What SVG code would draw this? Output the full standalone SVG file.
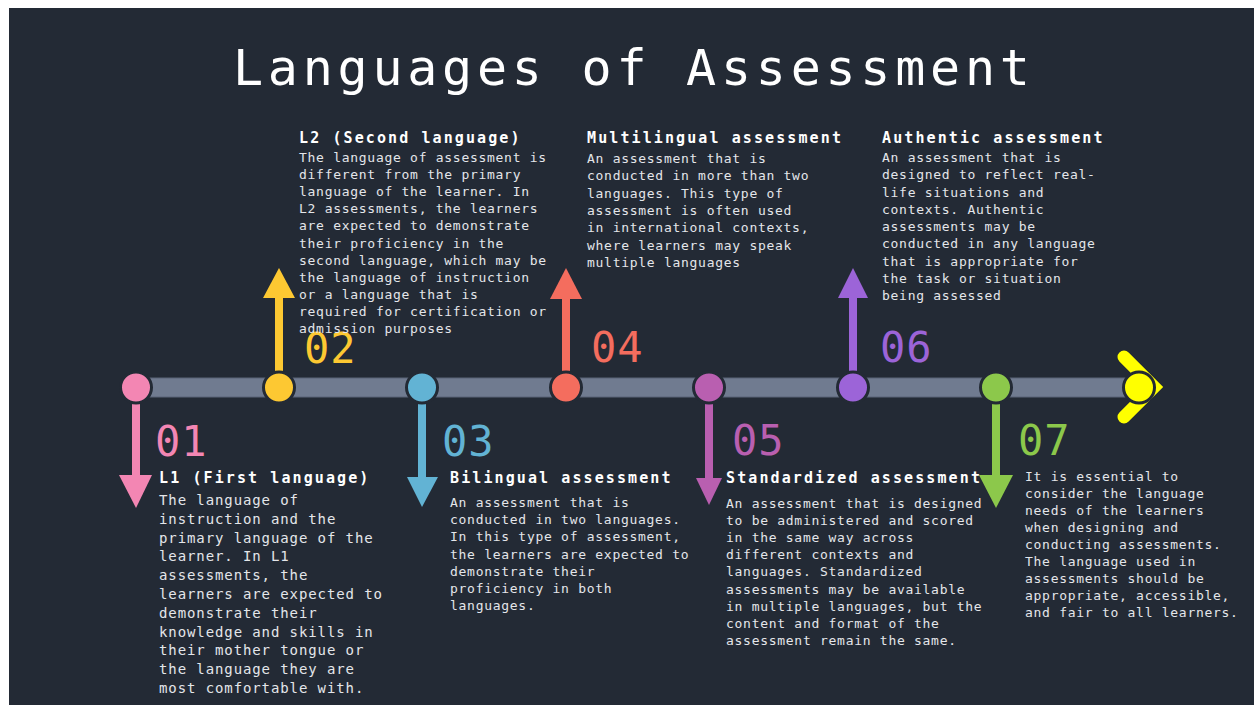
<svg xmlns="http://www.w3.org/2000/svg" width="1254" height="705" viewBox="0 0 1254 705">
<style>
.title{font-family:"DejaVu Sans Mono","Liberation Mono",monospace;font-size:50px;fill:#ffffff;letter-spacing:4.75px}
.num{font-family:"DejaVu Sans Mono","Liberation Mono",monospace;font-size:42px;letter-spacing:1px}
.head{font-family:"DejaVu Sans Mono","Liberation Mono",monospace;font-size:15px;font-weight:bold;fill:#ffffff;letter-spacing:2.1px}
.body{font-family:"DejaVu Sans Mono","Liberation Mono",monospace;font-size:13px;fill:#e4e6ea;letter-spacing:0.72px}
.body14{font-family:"DejaVu Sans Mono","Liberation Mono",monospace;font-size:14px;fill:#e4e6ea;letter-spacing:0.9px}
.dot{stroke:#232a35;stroke-width:3}
</style>
<rect x="0" y="0" width="1254" height="705" fill="#ffffff"/>
<rect x="9" y="8" width="1245" height="697" fill="#232a35"/>
<text class="title" x="233" y="85">Languages of Assessment</text>

<g id="connectors">
  <rect x="135" y="378" width="1004" height="19" fill="#707b90" stroke="#5a6579" stroke-width="1"/>
  <path d="M1124,357 L1154,387 L1124,417" fill="none" stroke="#ffff00" stroke-width="13" stroke-linecap="round" stroke-linejoin="miter"/>
</g>

<g id="node-01">
  <rect x="132" y="390" width="8" height="87" fill="#f386b3"/>
  <polygon points="119,475 152,475 136,508" fill="#f386b3"/>
  <circle class="dot" cx="136" cy="387.5" r="15.5" fill="#f386b3"/>
  <text class="num" x="155" y="456" fill="#f386b3">01</text>
  <text class="head" x="159" y="483">L1 (First language)</text>
  <text class="body14" x="159" y="505">
    <tspan x="159" dy="0">The language of</tspan>
    <tspan x="159" dy="18.8">instruction and the</tspan>
    <tspan x="159" dy="18.8">primary language of the</tspan>
    <tspan x="159" dy="18.8">learner. In L1</tspan>
    <tspan x="159" dy="18.8">assessments, the</tspan>
    <tspan x="159" dy="18.8">learners are expected to</tspan>
    <tspan x="159" dy="18.8">demonstrate their</tspan>
    <tspan x="159" dy="18.8">knowledge and skills in</tspan>
    <tspan x="159" dy="18.8">their mother tongue or</tspan>
    <tspan x="159" dy="18.8">the language they are</tspan>
    <tspan x="159" dy="18.8">most comfortable with.</tspan>
  </text>
</g>

<g id="node-02">
  <rect x="275" y="297" width="8" height="90" fill="#fdc832"/>
  <polygon points="263,298 295,298 279,268" fill="#fdc832"/>
  <circle class="dot" cx="279" cy="387.5" r="15.5" fill="#fdc832"/>
  <text class="num" x="304" y="363" fill="#fdc832">02</text>
  <text class="head" x="299" y="143">L2 (Second language)</text>
  <text class="body" x="299" y="162">
    <tspan x="299" dy="0">The language of assessment is</tspan>
    <tspan x="299" dy="17.1">different from the primary</tspan>
    <tspan x="299" dy="17.1">language of the learner. In</tspan>
    <tspan x="299" dy="17.1">L2 assessments, the learners</tspan>
    <tspan x="299" dy="17.1">are expected to demonstrate</tspan>
    <tspan x="299" dy="17.1">their proficiency in the</tspan>
    <tspan x="299" dy="17.1">second language, which may be</tspan>
    <tspan x="299" dy="17.1">the language of instruction</tspan>
    <tspan x="299" dy="17.1">or a language that is</tspan>
    <tspan x="299" dy="17.1">required for certification or</tspan>
    <tspan x="299" dy="17.1">admission purposes</tspan>
  </text>
</g>

<g id="node-03">
  <rect x="418" y="390" width="8" height="89" fill="#62b3d4"/>
  <polygon points="407,477 438,477 422,507" fill="#62b3d4"/>
  <circle class="dot" cx="422" cy="387.5" r="15.5" fill="#62b3d4"/>
  <text class="num" x="442" y="456" fill="#62b3d4">03</text>
  <text class="head" x="450" y="483">Bilingual assessment</text>
  <text class="body" x="450" y="507">
    <tspan x="450" dy="0">An assessment that is</tspan>
    <tspan x="450" dy="17.2">conducted in two languages.</tspan>
    <tspan x="450" dy="17.2">In this type of assessment,</tspan>
    <tspan x="450" dy="17.2">the learners are expected to</tspan>
    <tspan x="450" dy="17.2">demonstrate their</tspan>
    <tspan x="450" dy="17.2">proficiency in both</tspan>
    <tspan x="450" dy="17.2">languages.</tspan>
  </text>
</g>

<g id="node-04">
  <rect x="562" y="297" width="8" height="90" fill="#f46d5e"/>
  <polygon points="550,299 582,299 566,268" fill="#f46d5e"/>
  <circle class="dot" cx="566" cy="387.5" r="15.5" fill="#f46d5e"/>
  <text class="num" x="591" y="362" fill="#f46d5e">04</text>
  <text class="head" x="587" y="143">Multilingual assessment</text>
  <text class="body" x="587" y="163">
    <tspan x="587" dy="0">An assessment that is</tspan>
    <tspan x="587" dy="17.3">conducted in more than two</tspan>
    <tspan x="587" dy="17.3">languages. This type of</tspan>
    <tspan x="587" dy="17.3">assessment is often used</tspan>
    <tspan x="587" dy="17.3">in international contexts,</tspan>
    <tspan x="587" dy="17.3">where learners may speak</tspan>
    <tspan x="587" dy="17.3">multiple languages</tspan>
  </text>
</g>

<g id="node-05">
  <rect x="705" y="390" width="8" height="90" fill="#b95fb0"/>
  <polygon points="696,478 722,478 709,505" fill="#b95fb0"/>
  <circle class="dot" cx="709" cy="387.5" r="15.5" fill="#b95fb0"/>
  <text class="num" x="732" y="455" fill="#b95fb0">05</text>
  <text class="head" x="726" y="483">Standardized assessment</text>
  <text class="body" x="726" y="508">
    <tspan x="726" dy="0">An assessment that is designed</tspan>
    <tspan x="726" dy="17.1">to be administered and scored</tspan>
    <tspan x="726" dy="17.1">in the same way across</tspan>
    <tspan x="726" dy="17.1">different contexts and</tspan>
    <tspan x="726" dy="17.1">languages. Standardized</tspan>
    <tspan x="726" dy="17.1">assessments may be available</tspan>
    <tspan x="726" dy="17.1">in multiple languages, but the</tspan>
    <tspan x="726" dy="17.1">content and format of the</tspan>
    <tspan x="726" dy="17.1">assessment remain the same.</tspan>
  </text>
</g>

<g id="node-06">
  <rect x="849" y="297" width="8" height="90" fill="#9c64d8"/>
  <polygon points="838,298 868,298 853,268" fill="#9c64d8"/>
  <circle class="dot" cx="853" cy="387.5" r="15.5" fill="#9c64d8"/>
  <text class="num" x="880" y="362" fill="#9c64d8">06</text>
  <text class="head" x="882" y="143">Authentic assessment</text>
  <text class="body" x="882" y="162">
    <tspan x="882" dy="0">An assessment that is</tspan>
    <tspan x="882" dy="17.25">designed to reflect real-</tspan>
    <tspan x="882" dy="17.25">life situations and</tspan>
    <tspan x="882" dy="17.25">contexts. Authentic</tspan>
    <tspan x="882" dy="17.25">assessments may be</tspan>
    <tspan x="882" dy="17.25">conducted in any language</tspan>
    <tspan x="882" dy="17.25">that is appropriate for</tspan>
    <tspan x="882" dy="17.25">the task or situation</tspan>
    <tspan x="882" dy="17.25">being assessed</tspan>
  </text>
</g>

<g id="node-07">
  <rect x="992" y="390" width="8" height="87" fill="#8cc84b"/>
  <polygon points="979,475 1013,475 996,508" fill="#8cc84b"/>
  <circle class="dot" cx="996" cy="387.5" r="15.5" fill="#8cc84b"/>
  <text class="num" x="1018" y="455" fill="#8cc84b">07</text>
  <text class="body" x="1025" y="481">
    <tspan x="1025" dy="0">It is essential to</tspan>
    <tspan x="1025" dy="17">consider the language</tspan>
    <tspan x="1025" dy="17">needs of the learners</tspan>
    <tspan x="1025" dy="17">when designing and</tspan>
    <tspan x="1025" dy="17">conducting assessments.</tspan>
    <tspan x="1025" dy="17">The language used in</tspan>
    <tspan x="1025" dy="17">assessments should be</tspan>
    <tspan x="1025" dy="17">appropriate, accessible,</tspan>
    <tspan x="1025" dy="17">and fair to all learners.</tspan>
  </text>
</g>

<g id="node-end">
  <circle class="dot" cx="1139" cy="387.5" r="15.5" fill="#ffff00"/>
</g>
</svg>
